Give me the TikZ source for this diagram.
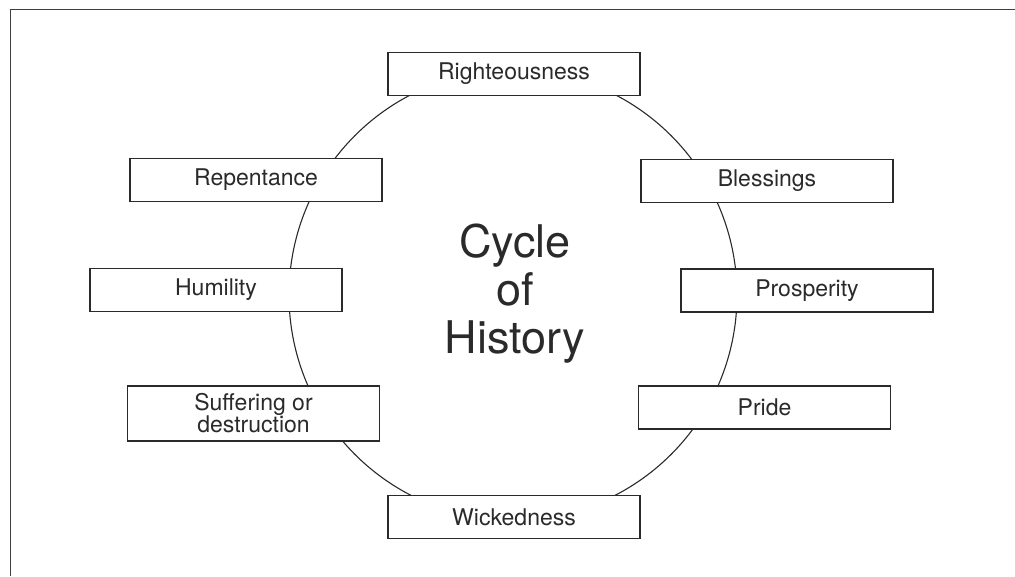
\documentclass[tikz,border=0pt]{standalone}
\usepackage{fontspec}
\setmainfont{TeX Gyre Heros}
\definecolor{ink}{HTML}{2A2A2A}
\begin{document}
\begin{tikzpicture}[x=1pt,y=-1pt,
  stagebox/.style={draw=ink,line width=1.3pt,fill=white,minimum width=252pt,minimum height=43pt,
    inner sep=0pt,align=center,text=ink,font=\fontsize{23}{22}\selectfont},
  title/.style={text=ink,font=\fontsize{45}{48}\selectfont,anchor=base,inner sep=0pt},
  ring/.style={draw=ink,line width=1.1pt},
  frame/.style={draw=ink!90,line width=1.6pt}]
\useasboundingbox (0,0) rectangle (1015,576);
% frame (top and left edges)
\coordinate (ftr) at (1015,9.5);
\coordinate (ftl) at (10.5,9.5);
\coordinate (fbl) at (10.5,576);
\draw[frame] (ftr) -- (ftl) -- (fbl);
% cycle
\coordinate (cc) at (513,295);
\draw[ring] (cc) ellipse [x radius=224, y radius=225];
% stages
\node[stagebox] (right) at (514,74) {Righteousness};
\node[stagebox] (bless) at (767,181) {Blessings};
\node[stagebox] (prosp) at (807,290.5) {Prosperity};
\node[stagebox] (pride) at (764.5,407.5) {Pride};
\node[stagebox] (wick) at (514,517) {Wickedness};
\node[stagebox,minimum height=55pt] (suff) at (253.5,413.5) {Suffering or\\destruction};
\node[stagebox] (humil) at (216,290) {Humility};
\node[stagebox] (repent) at (256,180) {Repentance};
% title
\node[title] (t1) at (515,257) {Cycle};
\node[title] (t2) at (515,305) {of};
\node[title] (t3) at (515,353) {History};
\end{tikzpicture}
\end{document}
